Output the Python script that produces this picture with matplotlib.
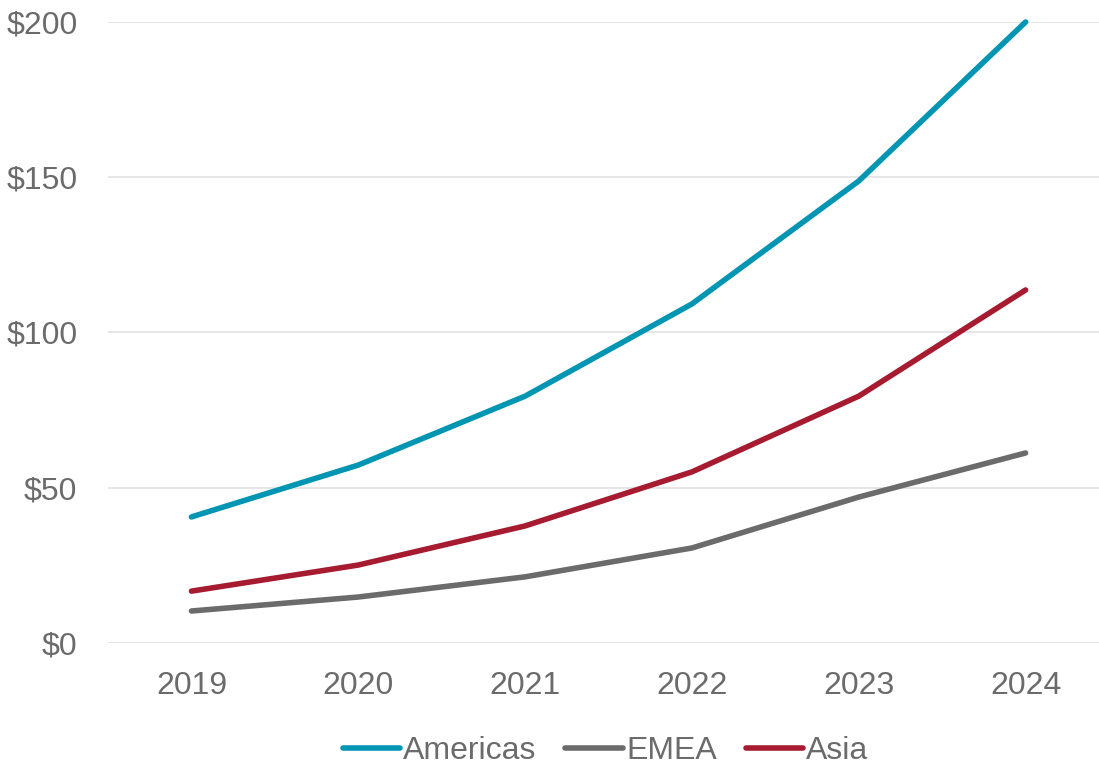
import matplotlib.pyplot as plt

years = ["2019", "2020", "2021", "2022", "2023", "2024"]
americas = [40.6, 57.3, 79.5, 109.2, 148.8, 200.0]
emea = [10.3, 14.8, 21.3, 30.6, 47.0, 61.2]
asia = [16.7, 25.1, 37.7, 55.1, 79.5, 113.7]

plt.rcParams['font.family'] = ['Liberation Sans', 'DejaVu Sans']
text_color = '#6b6b6b'

fig = plt.figure(figsize=(10.99, 7.64), dpi=100)
ax = fig.add_axes([0.0983, 0.1584, 0.9017, 0.8128])

x = range(len(years))
series = [("Americas", americas, '#0095b2'),
          ("EMEA", emea, '#6b6b6b'),
          ("Asia", asia, '#a61b30')]
for name, vals, col in series:
    ax.plot(x, vals, color=col, lw=4, label=name,
            solid_capstyle='round', solid_joinstyle='round', clip_on=False, zorder=3)

# plot area runs past the right edge of the figure
ax.set_xlim(-0.5, 5.44)
ax.set_ylim(0, 200)
ax.set_yticks([0, 50, 100, 150, 200])
ax.set_yticklabels(["$0", "$50", "$100", "$150", "$200"])
ax.set_xticks(list(x))
ax.set_xticklabels(years)
ax.grid(axis='y', color='#e4e4e4', lw=1.3)
ax.set_axisbelow(True)
for s in ax.spines.values():
    s.set_visible(False)
ax.tick_params(length=0, labelsize=23, colors=text_color)
ax.tick_params(axis='y', pad=22)
ax.tick_params(axis='x', pad=20)

leg = fig.legend(loc='lower center', bbox_to_anchor=(0.551, -0.04), ncol=3,
                 frameon=False, fontsize=23, handlelength=1.8,
                 handletextpad=0.1, columnspacing=0.9)
for t in leg.get_texts():
    t.set_color(text_color)

fig.savefig("out.png", dpi=100)
